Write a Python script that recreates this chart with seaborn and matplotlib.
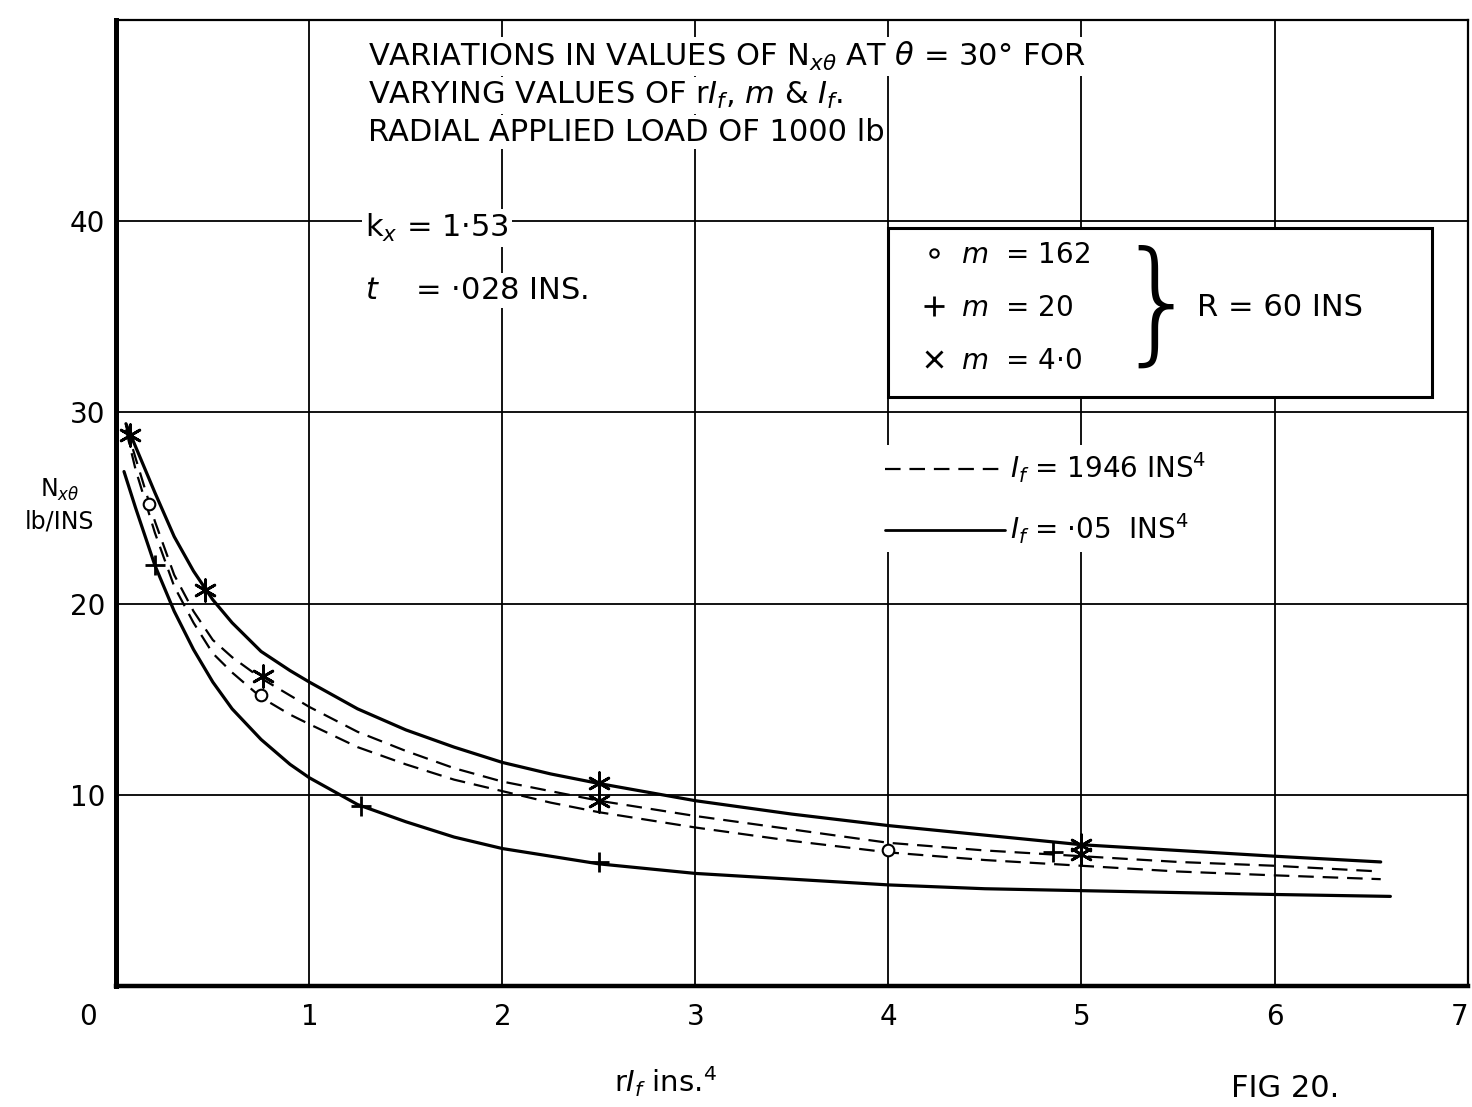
import numpy as np
import pandas as pd
import matplotlib
matplotlib.use("Agg")
import matplotlib.pyplot as plt
import matplotlib.transforms as mtransforms
from matplotlib.lines import Line2D
from matplotlib.patches import Rectangle
import seaborn as sns

# curve data (rI_f in ins^4, N_x0 in lb/in)
x_hi = [0.05, 0.1, 0.2, 0.3, 0.4, 0.5, 0.6, 0.75, 0.9, 1.0, 1.25, 1.5, 1.75, 2.0,
        2.25, 2.5, 3.0, 3.5, 4.0, 4.5, 5.0, 5.5, 6.0, 6.55]
n_solid_hi = [29.4, 28.2, 25.8, 23.5, 21.7, 20.2, 19.0, 17.5, 16.5, 15.9, 14.5, 13.4, 12.5, 11.7,
              11.1, 10.6, 9.7, 9.0, 8.4, 7.9, 7.4, 7.1, 6.8, 6.5]
n_dash_hi = [29.3, 27.6, 24.3, 21.5, 19.6, 18.1, 17.2, 16.1, 15.2, 14.6, 13.3, 12.3, 11.4, 10.7,
             10.2, 9.7, 8.9, 8.2, 7.5, 7.1, 6.8, 6.5, 6.3, 6.0]
n_dash_lo = [29.1, 27.0, 23.7, 20.9, 19.0, 17.4, 16.4, 15.1, 14.2, 13.7, 12.5, 11.6, 10.8, 10.2,
             9.6, 9.1, 8.3, 7.6, 7.0, 6.6, 6.3, 6.0, 5.8, 5.6]
x_lo = [0.04, 0.1, 0.2, 0.3, 0.4, 0.5, 0.6, 0.75, 0.9, 1.0, 1.25, 1.5, 1.75, 2.0,
        2.25, 2.5, 3.0, 3.5, 4.0, 4.5, 5.0, 5.5, 6.0, 6.6]
n_solid_lo = [26.9, 25.0, 22.0, 19.6, 17.6, 15.9, 14.5, 12.9, 11.6, 10.9, 9.5, 8.6, 7.8, 7.2,
              6.8, 6.4, 5.9, 5.6, 5.3, 5.1, 5.0, 4.9, 4.8, 4.7]

# plotted points
circ_x = [0.17, 0.75, 4.0]
circ_y = [25.2, 15.2, 7.1]
plus_x = [0.2, 1.27, 2.5, 4.85]
plus_y = [22.0, 9.4, 6.5, 7.0]
star_x = [0.07, 0.46, 0.76, 2.5, 2.5, 5.0, 5.0]
star_y = [28.8, 20.7, 16.2, 10.6, 9.7, 7.4, 6.9]

x_ticks = [0, 1, 2, 3, 4, 5, 6, 7]
y_ticks = [10, 20, 30, 40]

sns.set_style("white")
plt.rcParams['font.family'] = ['DejaVu Sans']
plt.rcParams['mathtext.fontset'] = 'dejavusans'
plt.rcParams['text.color'] = 'black'
plt.rcParams['xtick.color'] = 'black'
plt.rcParams['ytick.color'] = 'black'

fig = plt.figure(figsize=(14.72, 11.07), dpi=100)
ax = fig.add_axes([0.079, 0.109, 0.918, 0.873])

# grid
for gx in x_ticks[1:-1]:
    ax.axvline(gx, color='black', lw=1.3, zorder=1)
for gy in y_ticks:
    ax.axhline(gy, color='black', lw=1.3, zorder=1)

solid_kw = dict(color='black', lw=2.3, sort=False, estimator=None, ax=ax, zorder=3)
dash_kw = dict(color='black', lw=1.6, sort=False, estimator=None, ax=ax, zorder=3,
               linestyle=(0, (7, 4)))
sns.lineplot(x=x_hi, y=n_solid_hi, **solid_kw)
sns.lineplot(x=x_lo, y=n_solid_lo, **solid_kw)
sns.lineplot(x=x_hi, y=n_dash_hi, **dash_kw)
sns.lineplot(x=x_hi, y=n_dash_lo, **dash_kw)

sns.scatterplot(x=circ_x, y=circ_y, marker='o', s=70, facecolor='white',
                edgecolor='black', linewidth=1.5, ax=ax, zorder=4)
sns.scatterplot(x=plus_x, y=plus_y, marker='+', s=220, color='black',
                linewidth=2.0, ax=ax, zorder=4)
sns.scatterplot(x=star_x, y=star_y, marker=(6, 2, 0), s=240, color='black',
                linewidth=2.0, ax=ax, zorder=4)

ax.set_xlim(0, 7)
ax.set_ylim(0, 50.5)
ax.set_xticks(x_ticks)
ax.set_yticks(y_ticks)
ax.tick_params(length=0, labelsize=20, pad=12)
ax.tick_params(axis='y', pad=8)
xlabs = ax.get_xticklabels()
xlabs[0].set_transform(xlabs[0].get_transform() +
                       mtransforms.ScaledTranslation(-0.28, 0, fig.dpi_scale_trans))
xlabs[-1].set_transform(xlabs[-1].get_transform() +
                        mtransforms.ScaledTranslation(-0.08, 0, fig.dpi_scale_trans))
ax.set_xlabel('')
ax.set_ylabel('')
for side, w in [('left', 3.6), ('bottom', 3.2), ('top', 1.6), ('right', 1.6)]:
    ax.spines[side].set_visible(True)
    ax.spines[side].set_color('black')
    ax.spines[side].set_linewidth(w)

wb = dict(facecolor='white', edgecolor='none', pad=2)
fs = 22

# title block
title_lines = ["VARIATIONS IN VALUES OF N$_{x\\theta}$ AT $\\theta$ = 30° FOR",
               "VARYING VALUES OF r$I_f$, $m$ & $I_f$.",
               "RADIAL APPLIED LOAD OF 1000 lb"]
for line, yy in zip(title_lines, [0.962, 0.922, 0.884]):
    ax.text(0.186, yy, line, transform=ax.transAxes, fontsize=fs,
            ha='left', va='center', bbox=wb, zorder=5)

ax.text(0.184, 0.785, "k$_x$ = 1·53", transform=ax.transAxes, fontsize=fs,
        ha='left', va='center', bbox=wb, zorder=5)
ax.text(0.184, 0.720, "$t$    = ·028 INS.", transform=ax.transAxes, fontsize=fs,
        ha='left', va='center', bbox=wb, zorder=5)

# marker key box
ax.add_patch(Rectangle((0.571, 0.610), 0.403, 0.175, transform=ax.transAxes,
                       facecolor='white', edgecolor='black', lw=2.2, zorder=5))
mk_handles = [Line2D([], [], ls='none', marker='o', ms=6, mfc='white', mec='black', mew=1.5),
              Line2D([], [], ls='none', marker='+', ms=14, mec='black', mew=2.0),
              Line2D([], [], ls='none', marker='x', ms=11, mec='black', mew=2.0)]
mk_labels = ["$m$  = 162", "$m$  = 20", "$m$  = 4·0"]
leg1 = ax.legend(mk_handles, mk_labels, loc='upper left', bbox_to_anchor=(0.576, 0.797),
                 frameon=False, fontsize=20, handlelength=1.0, handletextpad=0.5,
                 labelspacing=0.9)
leg1.set_zorder(6)
ax.add_artist(leg1)
ax.text(0.771, 0.700, "}", transform=ax.transAxes, fontsize=96, fontweight='light',
        ha='center', va='center', zorder=6)
ax.text(0.800, 0.702, "R = 60 INS", transform=ax.transAxes, fontsize=fs,
        ha='left', va='center', zorder=6)

# line style key
ls_handles = [Line2D([], [], color='black', lw=1.6, linestyle=(0, (7, 4))),
              Line2D([], [], color='black', lw=2.0)]
ls_labels = ["$I_f$ = 1946 INS$^4$", "$I_f$ = ·05  INS$^4$"]
leg2 = ax.legend(ls_handles, ls_labels, loc='upper left', bbox_to_anchor=(0.565, 0.560),
                 frameon=True, fontsize=20, handlelength=4.3, handletextpad=0.2,
                 labelspacing=0.95, borderpad=0.2, borderaxespad=0)
leg2.get_frame().set_facecolor('white')
leg2.get_frame().set_edgecolor('none')
leg2.get_frame().set_alpha(1)
leg2.set_zorder(6)

# axis labels
ax.text(-0.042, 0.498, "N$_{x\\theta}$\nlb/INS", transform=ax.transAxes, fontsize=17,
        ha='center', va='center', linespacing=1.3)
ax.text(0.406, -0.099, "r$I_f$ ins.$^4$", transform=ax.transAxes, fontsize=21,
        ha='center', va='center')
ax.text(0.865, -0.106, "FIG 20.", transform=ax.transAxes, fontsize=fs,
        ha='center', va='center')

fig.savefig("out.png", dpi=100, facecolor='white')
